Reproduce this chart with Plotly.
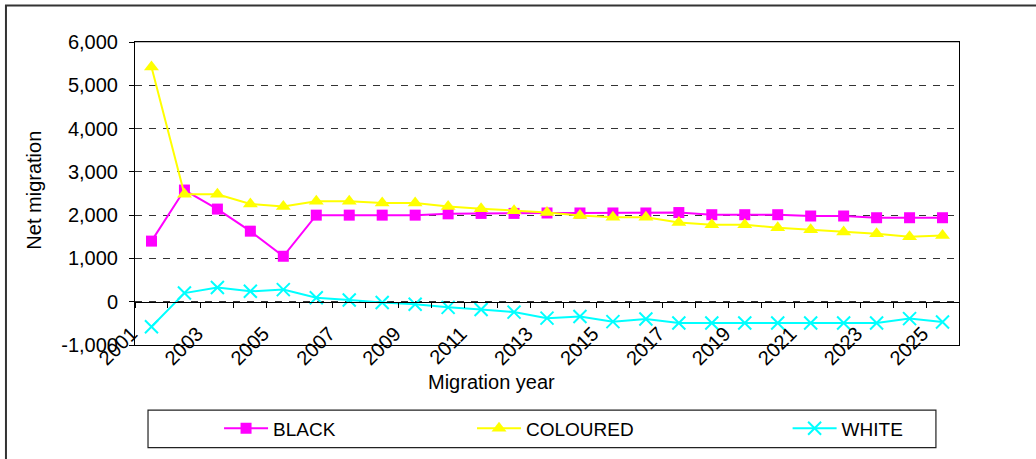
import plotly.graph_objects as go

# Projected net migration by population group
YEARS = [2001, 2002, 2003, 2004, 2005, 2006, 2007, 2008, 2009, 2010,
         2011, 2012, 2013, 2014, 2015, 2016, 2017, 2018, 2019, 2020,
         2021, 2022, 2023, 2024, 2025]
BLACK = [1400, 2580, 2140, 1630, 1050, 2000, 2000, 2000, 2000, 2030,
         2040, 2040, 2050, 2050, 2050, 2050, 2060, 2010, 2010, 2010,
         1980, 1980, 1940, 1940, 1940]
COLOURED = [5420, 2480, 2480, 2260, 2200, 2320, 2320, 2280, 2280, 2200,
            2150, 2100, 2060, 1990, 1950, 1950, 1830, 1780, 1780, 1710,
            1660, 1610, 1570, 1500, 1530]
WHITE = [-580, 200, 330, 240, 280, 90, 40, -20, -60, -130,
         -180, -240, -380, -340, -460, -400, -490, -490, -490, -490,
         -490, -490, -490, -390, -470]

X_LABELS = [2001, 2003, 2005, 2007, 2009, 2011, 2013, 2015, 2017, 2019,
            2021, 2023, 2025]
Y_TICKS = [-1000, 0, 1000, 2000, 3000, 4000, 5000, 6000]
Y_TICK_TEXT = ["-1,000", "0", "1,000", "2,000", "3,000", "4,000", "5,000", "6,000"]

FONT = "Liberation Sans, Arial, sans-serif"

fig = go.Figure()

fig.add_trace(go.Scatter(
    x=YEARS, y=BLACK, name="BLACK", mode="lines+markers",
    line=dict(color="#FF00FF", width=2),
    marker=dict(symbol="square", size=11, color="#FF00FF"),
    legend="legend",
))
fig.add_trace(go.Scatter(
    x=YEARS, y=COLOURED, name="COLOURED", mode="lines+markers",
    line=dict(color="#FFFF00", width=2),
    marker=dict(symbol="triangle-up", size=13, color="#FFFF00"),
    legend="legend2",
))
fig.add_trace(go.Scatter(
    x=YEARS, y=WHITE, name="WHITE", mode="lines+markers",
    line=dict(color="#00FFFF", width=2),
    marker=dict(symbol="x-thin", size=13, color="#00FFFF",
                line=dict(color="#00FFFF", width=2)),
    legend="legend3",
))
# empty helper trace so the category-boundary tick axis is rendered
fig.add_trace(go.Scatter(x=[YEARS[0]], y=[None], xaxis="x2", mode="lines",
                         showlegend=False, hoverinfo="skip"))

x_lo, x_hi = YEARS[0] - 0.5, YEARS[-1] + 0.5
boundaries = [y - 0.5 for y in YEARS] + [YEARS[-1] + 0.5]
y_lo, y_hi = Y_TICKS[0], Y_TICKS[-1]

legend_style = dict(orientation="h", y=-0.275, xanchor="left", yanchor="middle",
                    font=dict(size=19), bgcolor="rgba(0,0,0,0)", itemwidth=44)

fig.update_layout(
    width=1036, height=459,
    margin=dict(l=135, r=77, t=42, b=110),
    paper_bgcolor="white", plot_bgcolor="white",
    font=dict(family=FONT, size=20, color="black"),
    xaxis=dict(
        range=[x_lo, x_hi], tickmode="array", tickvals=X_LABELS,
        ticktext=[str(v) for v in X_LABELS], tickangle=-45,
        ticks="", showgrid=False, zeroline=False,
        showline=True, linecolor="black", linewidth=1, mirror=True,
        tickfont=dict(size=20), ticklabelshift=-20, ticklabelstandoff=-32,
    ),
    xaxis2=dict(
        overlaying="x", anchor="free", matches="x",
        position=(0 - y_lo) / (y_hi - y_lo),
        range=[x_lo, x_hi], tickmode="array", tickvals=boundaries,
        ticks="outside", ticklen=5, tickcolor="black", tickwidth=1,
        showticklabels=False, showgrid=False, zeroline=False,
        showline=True, linecolor="black", linewidth=1,
    ),
    yaxis=dict(
        range=[y_lo, y_hi], tickmode="array", tickvals=Y_TICKS,
        ticktext=Y_TICK_TEXT, ticks="outside", ticklen=5, tickcolor="black",
        showgrid=True, gridcolor="#333333", gridwidth=1, griddash="7px,7px",
        zeroline=False, showline=True, linecolor="black", linewidth=1,
        mirror=True, ticklabelstandoff=7, tickfont=dict(size=20),
    ),
    legend=dict(legend_style, x=0.102),
    legend2=dict(legend_style, x=0.409),
    legend3=dict(legend_style, x=0.792),
    annotations=[
        dict(text="Net migration", xref="paper", yref="paper",
             x=-0.122, y=0.511, textangle=-90, showarrow=False,
             font=dict(size=20), xanchor="center", yanchor="middle"),
        dict(text="Migration year", xref="paper", yref="paper",
             x=0.433, y=-0.1205, showarrow=False,
             font=dict(size=20), xanchor="center", yanchor="middle"),
    ],
    shapes=[
        # chart area frame
        dict(type="rect", xref="paper", yref="paper",
             x0=-0.1566, x1=1.2, y0=-0.5, y1=1.1205,
             line=dict(color="#333333", width=2), layer="below"),
        # top edge of plot area
        dict(type="line", xref="paper", yref="paper",
             x0=0, x1=1, y0=1, y1=1,
             line=dict(color="#808080", width=1), layer="below"),
        # legend frame
        dict(type="rect", xref="paper", yref="paper",
             x0=0.0158, x1=0.972, y0=-0.3388, y1=-0.215,
             line=dict(color="#222222", width=1.2)),
    ],
)

fig.write_html("out.html")
